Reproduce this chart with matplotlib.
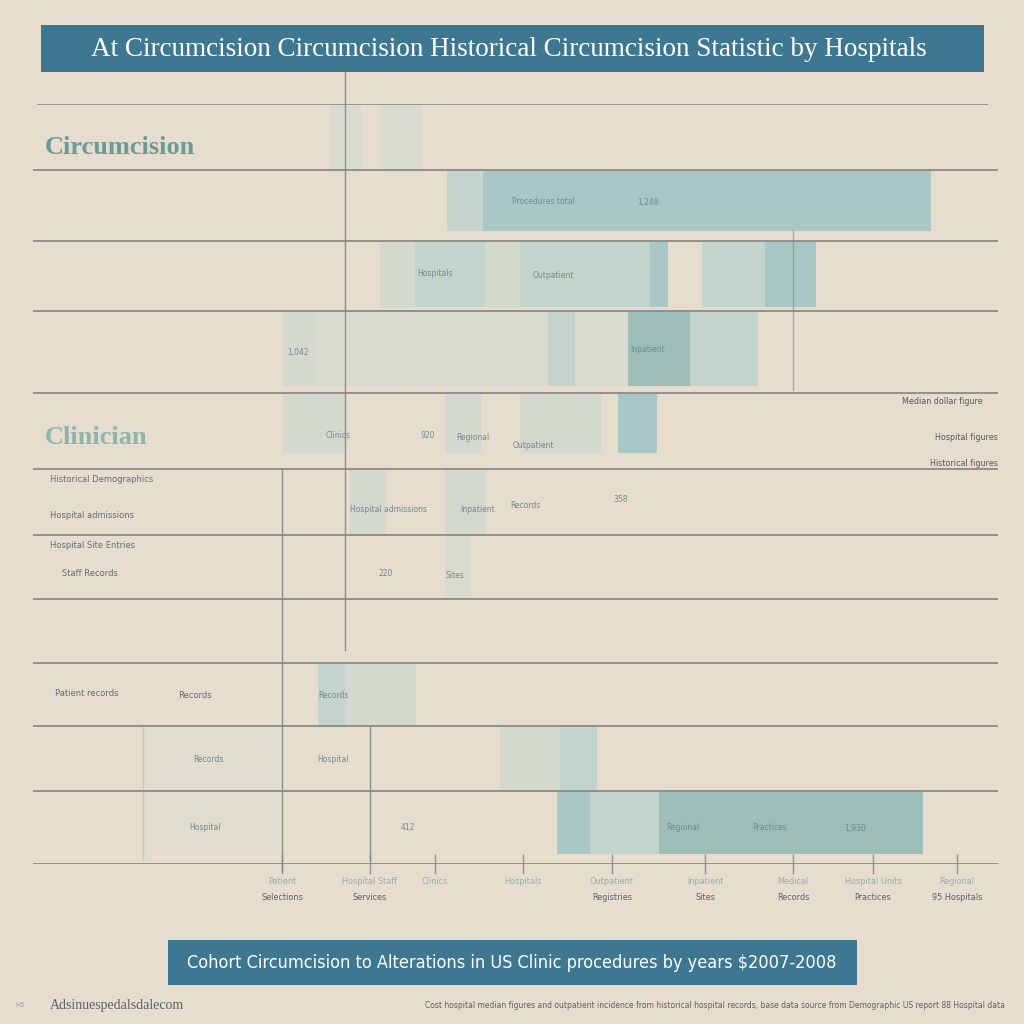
import matplotlib
matplotlib.use("Agg")
import matplotlib.pyplot as plt
from matplotlib.patches import Rectangle

# ---------------- data ----------------
title = "At Circumcision Circumcision Historical Circumcision Statistic by Hospitals"
footer = "Cohort Circumcision to Alterations in US Clinic procedures by years \\$2007-2008"
source_left = "Adsinuespedalsdalecom"
source_right = ("Cost hospital median figures and outpatient incidence from historical hospital records, "
                "base data source from Demographic US report 88 Hospital data")

# row boundaries (value axis units, top to bottom)
row_edges = [0, 66, 137, 207, 289, 365, 431, 495, 559, 622, 687, 760]
section_labels = ["Circumcision", "Clinician"]
section_rows = [0, 4]

# segments: (row, start, end, shade, bar height fraction)
seg_row   = [1, 1, 1, 1, 1, 1, 1,
             2, 2, 2, 2, 2, 2, 2, 2, 2, 2,
             3, 3, 3, 3, 3, 3, 3, 3, 3,
             4, 4, 4, 4,
             5, 5, 6, 8, 8, 9, 9, 9, 10, 10, 10, 10, 10, 10, 0, 0]
seg_start = [414, 450, 579, 652, 732, 822, 857,
             347, 382, 452, 487, 567, 617, 669, 732, 760, 782,
             250, 282, 312, 377, 457, 515, 542, 595, 657,
             250, 412, 487, 585,
             317, 412, 412, 285, 312, 110, 467, 527, 110, 524, 557, 626, 712, 792, 297, 347]
seg_end   = [450, 579, 652, 732, 822, 857, 897,
             382, 452, 487, 567, 617, 634, 732, 760, 782, 782,
             282, 312, 377, 457, 515, 542, 595, 657, 724,
             312, 447, 567, 623,
             352, 452, 437, 312, 382, 249, 527, 563, 249, 557, 626, 712, 792, 889, 327, 387]
seg_shade = ["light", "mid", "mid", "mid", "mid", "mid", "mid",
             "faint", "light", "faint", "light", "light", "mid", "light", "mid", "mid", "mid",
             "faint", "ghost", "ghost", "ghost", "ghost", "light", "ghost", "strong", "light",
             "faint", "faint", "faint", "mid",
             "faint", "faint", "ghost", "light", "faint", "veil", "faint", "light", "veil",
             "mid", "light", "strong", "strong", "strong", "ghost", "ghost"]
seg_frac  = [0.85] * 7 + [0.93] * 10 + [0.9] * 9 + [0.77] * 4 + [1.0] * 6 + [1.0] * 2 + [0.85] * 6 + [1.0] * 2

shade_colors = {"strong": "#9dbdb8", "mid": "#a9c7c4", "light": "#c3d4cc",
                "faint": "#d3d9cf", "ghost": "#dadbd0", "veil": "#e0dccf"}

# x-axis categories (positions on the value axis)
tick_pos = [249, 337, 402, 490, 579, 672, 760, 840, 924]
tick_top = ["Patient", "Hospital Staff", "Clinics", "Hospitals", "Outpatient",
            "Inpatient", "Medical", "Hospital Units", "Regional"]
tick_bottom = ["Selections", "Services", "", "", "Registries",
               "Sites", "Records", "Practices", "95 Hospitals"]

# vertical reference lines: (x, y_from, y_to, alpha)
vline_x = [312, 249, 337, 110, 760]
vline_y0 = [-32, 366, 622, 622, 126]
vline_y1 = [546, 766, 756, 756, 286]
vline_a = [0.9, 0.9, 0.9, 0.25, 0.6]

# small row labels (x, y, text)
left_x = [17, 17, 17, 29, 22, 145]
left_y = [376, 411, 442, 469, 590, 591]
left_txt = ["Historical Demographics", "Hospital admissions", "Hospital Site Entries",
            "Staff Records", "Patient records", "Records"]

# in-bar annotations (x, y, text)
ann_x = [510, 615, 402, 520, 615, 265, 305, 395, 440, 500, 355, 445, 492, 588, 353, 422, 175, 300, 300, 172, 375, 650, 737, 822]
ann_y = [97, 99, 170, 172, 246, 248, 332, 332, 333, 342, 405, 406, 401, 396, 470, 471, 656, 591, 656, 724, 724, 724, 724, 724]
ann_txt = ["Procedures total", "1,248", "Hospitals", "Outpatient", "Inpatient", "1,042",
           "Clinics", "920", "Regional", "Outpatient", "Hospital admissions", "Inpatient",
           "Records", "358", "220", "Sites", "Records", "Records", "Hospital", "Hospital",
           "412", "Regional", "Practices", "1,930"]

right_x = [950, 965, 965]
right_y = [297, 333, 359]
right_txt = ["Median dollar figure", "Hospital figures", "Historical figures"]

# ---------------- figure ----------------
BG = "#e6ddce"
TEAL = "#3d7890"
GRID = "#8c8b84"

fig = plt.figure(figsize=(10.24, 10.24), dpi=100, facecolor=BG)
ax = fig.add_axes([33 / 1024, (1024 - 864) / 1024, 965 / 1024, 760 / 1024])
ax.set_facecolor(BG)
ax.set_xlim(0, 965)
ax.set_ylim(760, 0)
for s in ax.spines.values():
    s.set_visible(False)

# bars
for r, a, b, sh, fr in zip(seg_row, seg_start, seg_end, seg_shade, seg_frac):
    top = row_edges[r]
    h = (row_edges[r + 1] - top) * fr
    ax.barh(top, b - a, left=a, height=h, align="edge",
            color=shade_colors[sh], edgecolor=shade_colors[sh], linewidth=0.6, zorder=1)

# horizontal gridlines
for i, e in enumerate(row_edges):
    if i == 0:
        ax.hlines(e, 4, 955, color=GRID, lw=1.2, zorder=3)
    else:
        ax.hlines(e, 0, 965, color=GRID, lw=1.3, zorder=3)

# vertical lines
for x, y0, y1, a in zip(vline_x, vline_y0, vline_y1, vline_a):
    ax.plot([x, x], [y0, y1], color="#7f8a88", lw=1.0, alpha=a, zorder=2, clip_on=False)

# ticks
ax.set_yticks([])
ax.set_xticks(tick_pos)
ax.set_xticklabels([])
ax.tick_params(axis="x", direction="inout", length=14, width=1.0, color="#7f9a98")
for x, t1, t2 in zip(tick_pos, tick_top, tick_bottom):
    ax.text(x, 778, t1, ha="center", va="center", fontsize=6.5, color="#8fb0ad",
            fontfamily="DejaVu Sans", fontstretch="condensed")
    ax.text(x, 793, t2, ha="center", va="center", fontsize=6.5, color="#56636a",
            fontfamily="DejaVu Sans", fontstretch="condensed")

# section labels
for lab, r, c in zip(section_labels, section_rows, ["#6d9997", "#8db4ae"]):
    ax.text(12, row_edges[r] + 44, lab, ha="left", va="center", fontsize=19,
            fontweight="bold", color=c, fontfamily="Liberation Serif")

for x, y, t in zip(left_x, left_y, left_txt):
    ax.text(x, y, t, ha="left", va="center", fontsize=6, color="#5e6f72")
for x, y, t in zip(ann_x, ann_y, ann_txt):
    ax.text(x, y, t, ha="center", va="center", fontsize=5.5, color="#6f8a8c", zorder=4)
for x, y, t in zip(right_x, right_y, right_txt):
    ax.text(x, y, t, ha="right", va="center", fontsize=5.8, color="#4f5a5e")

# banners
fig.add_artist(Rectangle((41 / 1024, 1 - 72 / 1024), 943 / 1024, 47 / 1024,
                         transform=fig.transFigure, facecolor=TEAL, edgecolor="none"))
fig.text(509 / 1024, 1 - 49 / 1024, title, ha="center", va="center", color="white",
         fontsize=19.5, fontfamily="Liberation Serif")
fig.add_artist(Rectangle((168 / 1024, 1 - 985 / 1024), 689 / 1024, 45 / 1024,
                         transform=fig.transFigure, facecolor=TEAL, edgecolor="none"))
fig.text(512 / 1024, 1 - 963 / 1024, footer, ha="center", va="center", color="white",
         fontsize=13, fontfamily="DejaVu Sans", fontstretch="condensed")

fig.text(50 / 1024, 1 - 1005 / 1024, source_left, ha="left", va="center",
         color="#5b6266", fontsize=10, fontfamily="Liberation Serif")
fig.text(15 / 1024, 1 - 1005 / 1024, "H5", ha="left", va="center",
         color="#a0a4a4", fontsize=5)
fig.text(1005 / 1024, 1 - 1005 / 1024, source_right, ha="right", va="center",
         color="#5b6266", fontsize=5.5)

fig.savefig("out.png", dpi=100, facecolor=BG)
